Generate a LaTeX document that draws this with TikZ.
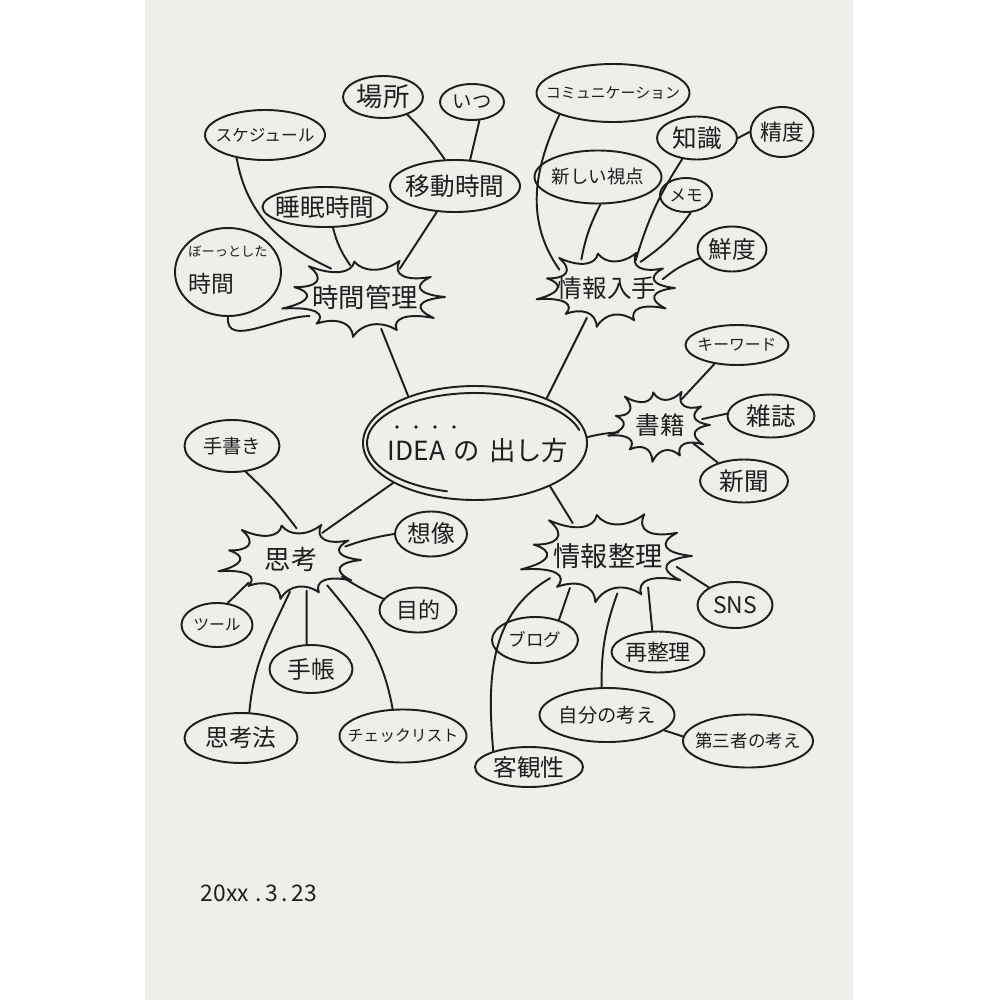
\documentclass[tikz,border=0pt]{standalone}
\usepackage{fontspec}
\newfontfamily\jp{Noto Sans CJK JP}
\usetikzlibrary{shapes.geometric,calc}
\definecolor{paper}{RGB}{238,238,234}
\definecolor{inkc}{RGB}{30,30,30}
\tikzset{
  ink/.style={line width=1.1pt, draw=inkc, line cap=round, line join=round},
  elshape/.style={ellipse, draw=inkc, line width=1.1pt, inner sep=0pt},
  bshape/.style={ellipse, draw=none, inner sep=0pt},
  txt/.style={inner sep=0pt, text=inkc},
}
\newcommand\elnode[7]{%
  \node[elshape, minimum width=#4*0.2mm, minimum height=#5*0.2mm] (#1) at (#2,#3) {};
  \node[txt, font=\jp\fontsize{#6pt}{#6pt}\selectfont] (#1t) at (#1) {#7};
}
% burst: name, x, y, rx, ry, fontsize, text ; 11 spikes with rounded concave scallops
\newcommand\burstnode[7]{%
  \node[bshape, minimum width=1.7*#4*0.2mm, minimum height=1.7*#5*0.2mm] (#1) at (#2,#3) {};
  \node[txt, font=\jp\fontsize{#6pt}{#6pt}\selectfont] (#1t) at (#1) {#7};
  \draw[ink] ($(#1)+(0:#4 and #5)$)
    \foreach \i in {1,...,11} {
      .. controls ($(#1)+({(\i-0.82)*360/11}:{0.66*#4} and {0.66*#5})$)
         and ($(#1)+({(\i-0.18)*360/11}:{0.66*#4} and {0.66*#5})$) ..
      ($(#1)+({\i*360/11}:{#4*(1+0.08*sin(\i*163.6364))} and {#5*(1+0.08*sin(\i*163.6364))})$)
    };
}
\begin{document}
\begin{tikzpicture}[x=0.2mm, y=-0.2mm]
\useasboundingbox (0,0) rectangle (1000,1000);
\fill[white] (0,0) rectangle (1000,1000);
\fill[paper] (145,0) rectangle (853,1000);

% ---- top left cluster
\elnode{basho}{383}{97}{80}{42}{15}{場所}
\elnode{itsu}{472}{102}{64}{36}{11}{いつ}
\elnode{sched}{265}{135}{120}{50}{9.5}{スケジュール}
\elnode{idou}{455}{186}{130}{52}{14}{移動時間}
\elnode{suimin}{325}{207}{125}{40}{14}{睡眠時間}
\node[elshape, minimum width=106*0.2mm, minimum height=88*0.2mm] (bootto) at (228,272) {};
\node[txt, align=left, font=\jp\fontsize{13pt}{20pt}\selectfont] (boottot) at (228,270)
  {{\fontsize{7.5pt}{20pt}\selectfont ぼーっとした}\\時間};
\burstnode{jikan}{365}{297}{80}{38}{15}{時間管理}

% ---- top right cluster
\elnode{comm}{613}{93}{153}{58}{8.5}{コミュニケーション}
\elnode{shiten}{598}{177}{127}{53}{10.5}{新しい視点}
\elnode{chishiki}{697}{138}{80}{43}{14}{知識}
\elnode{seido}{782}{132}{63}{50}{12.5}{精度}
\elnode{memo}{686}{195}{52}{34}{9.5}{メモ}
\elnode{sendo}{732}{249}{69}{45}{13.5}{鮮度}
\burstnode{jouhou}{607}{288}{68}{37}{14}{情報入手}

% ---- centre
\node[elshape, minimum width=224*0.2mm, minimum height=114*0.2mm] (idea) at (475,443) {};
\draw[ink] ($(idea)+(105:108 and 50)$) arc[start angle=105, end angle=345, x radius=108, y radius=50];
\node[txt, font=\jp\fontsize{15pt}{15pt}\selectfont] (ideat) at (478,450) {IDEA\,\,の\,\,出し方};
\foreach \dx in {397,416,435,454} \fill[inkc] (\dx,427) circle[radius=1.8];

% ---- right middle
\elnode{keyword}{737}{345}{103}{40}{9}{キーワード}
\elnode{zasshi}{771}{416}{87}{43}{14}{雑誌}
\elnode{shinbun}{744}{481}{88}{43}{14}{新聞}
\burstnode{shoseki}{660}{425}{50}{35}{14}{書籍}

% ---- lower right
\burstnode{seiri}{608}{556}{84}{44}{15.5}{情報整理}
\elnode{sns}{735}{605}{75}{46}{13}{SNS}
\elnode{blog}{535}{640}{86}{46}{10}{ブログ}
\elnode{saiseiri}{658}{652}{93}{41}{12.5}{再整理}
\elnode{jibun}{607}{715}{135}{54}{11}{自分の考え}
\elnode{daisan}{748}{741}{130}{53}{10}{第三者の考え}
\elnode{kyakkan}{529}{767}{108}{40}{13.5}{客観性}

% ---- lower left
\elnode{tegaki}{232}{446}{95}{52}{11}{手書き}
\elnode{souzou}{431}{534}{72}{45}{13.5}{想像}
\elnode{mokuteki}{418}{610}{77}{45}{12.5}{目的}
\elnode{tool}{217}{625}{71}{44}{9}{ツール}
\elnode{techou}{311}{669}{83}{48}{13.5}{手帳}
\elnode{shikouhou}{241}{738}{113}{50}{13.5}{思考法}
\elnode{check}{403}{736}{127}{53}{9}{チェックリスト}
\burstnode{shikou}{291}{560}{70}{37}{15}{思考}

% ---- date
\node[txt, font=\jp\fontsize{13pt}{13pt}\selectfont] (date) at (259,893) {20xx\;.\,3\,.\,23};

% ---- connectors
\draw[ink] (basho.-36) to[bend left=5] (idou.111);
\draw[ink] (itsu.-68) to (idou.60);
\draw[ink] (sched.-141) to[out=-80, in=155] (jikan.140);
\draw[ink] (suimin.-69) to[bend right=10] (jikan.115);
\draw[ink] (idou.-125) to (jikan.39);
\draw[ink] (bootto.-90) to[out=-95, in=180] (jikan.-161);
\draw[ink] (jikan.-63) -- (idea.145);

\draw[ink] (comm.-158) to[out=-115, in=125] (jouhou.159);
\draw[ink] (shiten.-85) to[bend right=8] (jouhou.132);
\draw[ink] (chishiki.-125) to[bend right=8] (jouhou.44);
\draw[ink] (memo.-75) to[bend left=10] (jouhou.38);
\draw[ink] (sendo.-164) to[bend right=10] (jouhou.9);
\draw[ink] (chishiki.east) -- (seido.west);
\draw[ink] (jouhou.-124) -- (idea.32);

\draw[ink] (idea.3) to[bend left=5] (shoseki.-170);
\draw[ink] (keyword.-140) -- (shoseki.50);
\draw[ink] (zasshi.177) -- (shoseki.8);
\draw[ink] (shinbun.145) -- (shoseki.-29);

\draw[ink] (idea.-30) -- (seiri.137);
\draw[ink] (seiri.-9) -- (sns.146);
\draw[ink] (seiri.-140) -- (blog.40);
\draw[ink] (seiri.-38) -- (saiseiri.105);
\draw[ink] (seiri.-76) to[bend right=10] (jibun.101);
\draw[ink] (seiri.-159) to[out=-150, in=95] (kyakkan.156);
\draw[ink] (jibun.-15) -- (daisan.176);

\draw[ink] (idea.-154) to (shikou.41);
\draw[ink] (tegaki.-62) to[bend left=5] (shikou.80);
\draw[ink] (souzou.180) to[bend right=5] (shikou.14);
\draw[ink] (mokuteki.162) to[bend left=5] (shikou.-18);
\draw[ink] (tool.64) -- (shikou.-152);
\draw[ink] (techou.100) -- (shikou.-63);
\draw[ink] (shikouhou.72) to[out=85, in=-115] (shikou.-92);
\draw[ink] (check.111) to[out=100, in=-50] (shikou.-35);
\end{tikzpicture}
\end{document}
